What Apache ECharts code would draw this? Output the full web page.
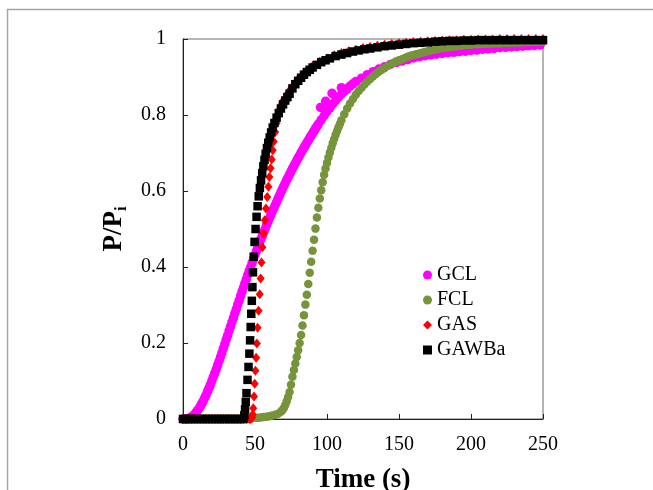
<!DOCTYPE html>
<html>
<head>
<meta charset="utf-8">
<script src="https://cdn.jsdelivr.net/npm/echarts@6/dist/echarts.min.js"></script>
<style>
html,body{margin:0;padding:0;background:#fff;}
#chart{width:653px;height:490px;}
</style>
</head>
<body>
<div id="chart"></div>
<script>
// ---- Data ----
var seriesNames = ['GCL', 'FCL', 'GAS', 'GAWBa'];
var xTicks = [0, 50, 100, 150, 200, 250];
var yTicks = [0, 0.2, 0.4, 0.6, 0.8, 1];

var gclTime = [0,2,4,5,6,7,8,9,10,11,12,13,14,15,16,17,18,19,20,21,22,23,24,25,26,27,28,29,30,31,32,33,34,35,36,37,38,39,40,41,42,43,44,45,46,47,48,49,50,51,52,53,54,55,56,57,58,59,60,61,62,63,64,65,66,67,68,69,70,71,72,73,74,75,76,77,78,79,80,81,82,83,84,85,86,87,88,89,90,91,92,93,94,95.5,96,98,99,100,102,103.5,104,106,108,110,110,112,114,116,118,120,124,128,132,136,140,144,148,152,156,160,164,168,172,176,180,184,188,192,196,200,204,208,212,216,220,224,228,232,236,240,244,248];
var gclP = [0,0,0.001,0.003,0.005,0.008,0.012,0.017,0.022,0.027,0.033,0.040,0.047,0.055,0.063,0.072,0.081,0.090,0.100,0.110,0.120,0.130,0.141,0.152,0.163,0.174,0.186,0.197,0.209,0.220,0.232,0.243,0.255,0.266,0.278,0.289,0.301,0.312,0.324,0.335,0.346,0.357,0.368,0.379,0.390,0.400,0.411,0.421,0.432,0.442,0.452,0.462,0.472,0.481,0.491,0.500,0.510,0.519,0.528,0.537,0.546,0.554,0.563,0.571,0.580,0.588,0.597,0.605,0.613,0.621,0.629,0.636,0.644,0.651,0.659,0.666,0.673,0.680,0.687,0.694,0.701,0.707,0.714,0.720,0.727,0.733,0.740,0.746,0.752,0.758,0.764,0.770,0.776,0.820,0.787,0.798,0.836,0.809,0.819,0.857,0.829,0.838,0.847,0.855,0.872,0.862,0.869,0.876,0.882,0.888,0.897,0.906,0.914,0.921,0.927,0.933,0.938,0.942,0.946,0.950,0.953,0.956,0.958,0.960,0.962,0.964,0.965,0.967,0.968,0.970,0.971,0.973,0.974,0.975,0.977,0.978,0.979,0.980,0.981,0.982,0.983,0.984];

var fclTime = [0,2,4,6,8,10,12,14,16,18,20,22,24,26,28,30,32,34,36,38,40,42,44,46,48,50,52,54,56,58,60,62,64,66,68,69,70,71,72,73,74,75,76,77,78,79,80,81,82,83,84,85,86,87,88,89,90,91,92,93,94,95,96,97,98,99,100,101,102,103,104,105,106,107,108,109,110,112,114,116,118,120,122,124,126,128,130,132,134,136,138,140,142,144,146,148,150,152,154,156,158,160,162,164,166,168,170,172,174,176,178,180,182,184,186,188,190,192,194,196,198,200,202,204,206,208,210,212,214,216,218,220,222,224,226,228,230,232,234,236,238,240,242,244,246,248,250];
var fclP = [0,0,0,0,0,0,0,0,0,0,0,0,0,0,0,0,0,0,0,0,0,0.001,0.001,0.002,0.002,0.003,0.003,0.004,0.005,0.006,0.007,0.009,0.011,0.014,0.019,0.023,0.029,0.037,0.047,0.058,0.071,0.090,0.111,0.129,0.146,0.163,0.181,0.200,0.221,0.246,0.273,0.301,0.327,0.355,0.385,0.414,0.443,0.472,0.501,0.530,0.556,0.580,0.602,0.623,0.643,0.659,0.674,0.688,0.701,0.714,0.726,0.737,0.748,0.758,0.768,0.777,0.786,0.802,0.817,0.830,0.842,0.853,0.863,0.872,0.880,0.888,0.895,0.902,0.908,0.914,0.919,0.924,0.929,0.933,0.937,0.941,0.944,0.947,0.950,0.953,0.956,0.958,0.960,0.962,0.964,0.966,0.968,0.970,0.972,0.973,0.975,0.976,0.977,0.978,0.979,0.980,0.981,0.982,0.983,0.984,0.985,0.985,0.986,0.986,0.987,0.987,0.988,0.988,0.988,0.989,0.989,0.989,0.990,0.990,0.990,0.991,0.991,0.991,0.991,0.992,0.992,0.992,0.992,0.993,0.993,0.993,0.993];

var gasTime = [0,2,4,6,8,10,12,14,16,18,20,22,24,26,28,30,32,34,36,38,40,42,44,46,47,48,48.4,48.8,49.3,49.8,50.3,50.8,51.3,51.8,52.5,53.3,53.9,54.5,55.1,55.9,56.8,57.6,58.5,59.3,60,60.8,61.6,62.3,63,64,65,66,67,68,69,70,72,74,76,78,80,83,86,90,95,100,105,110,115,120,125,130,135,140,145,150,155,160,165,170,175,180,185,190,195,200,205,210,215,220,225,230,235,240,245,250];
var gasP = [0,0,0,0,0,0,0,0,0,0,0,0,0,0,0,0,0,0,0,0,0,0,0,0,0,0.004,0.012,0.028,0.059,0.093,0.127,0.161,0.199,0.240,0.285,0.328,0.370,0.412,0.452,0.489,0.523,0.554,0.584,0.611,0.637,0.660,0.683,0.707,0.730,0.755,0.778,0.797,0.814,0.825,0.833,0.840,0.853,0.865,0.875,0.886,0.895,0.906,0.917,0.929,0.940,0.949,0.957,0.963,0.968,0.972,0.976,0.979,0.982,0.985,0.987,0.989,0.990,0.992,0.993,0.994,0.995,0.996,0.997,0.997,0.998,0.998,0.999,0.999,0.999,1.0,1.0,1.0,1.0,1.0,1.0,1.0];

var gawTime = [0,2,4,6,8,10,12,14,16,18,20,22,24,26,28,30,32,34,36,38,40,42,42.6,43.1,43.6,44.1,44.8,45.5,46.1,46.6,47.0,47.4,47.8,48.2,48.6,49.1,49.7,50.4,51.1,51.8,52.6,53.4,54.2,55.0,55.8,56.6,57.4,58.3,59.2,60.2,61.2,62.3,63.5,65,66.5,68,69.5,71,72.5,74,76,78,80,82,84,86,88,90,93,96,99,102,106,110,114,118,122,126,130,135,140,145,150,155,160,165,170,175,180,185,190,195,200,205,210,215,220,225,230,235,240,245,250];
var gawP = [0,0,0,0,0,0,0,0,0,0,0,0,0,0,0,0,0,0,0,0,0,0,0.010,0.025,0.045,0.068,0.103,0.137,0.172,0.207,0.242,0.277,0.311,0.347,0.386,0.427,0.466,0.500,0.532,0.560,0.586,0.608,0.628,0.647,0.665,0.682,0.698,0.713,0.727,0.741,0.754,0.767,0.779,0.793,0.805,0.817,0.828,0.838,0.847,0.856,0.870,0.881,0.890,0.898,0.906,0.913,0.919,0.925,0.932,0.939,0.944,0.949,0.955,0.959,0.963,0.967,0.970,0.973,0.975,0.978,0.981,0.983,0.985,0.987,0.989,0.990,0.991,0.993,0.994,0.995,0.995,0.996,0.996,0.997,0.997,0.997,0.997,0.997,0.997,0.997,0.997,0.997,0.997];

function zip(t, v) { return t.map(function (x, i) { return [x, v[i]]; }); }

var serif = 'Liberation Serif';
var chart = echarts.init(document.getElementById('chart'), null, {renderer: 'canvas'});

var option = {
  animation: false,
  backgroundColor: '#ffffff',
  graphic: [{
    type: 'rect', silent: true, z: -10,
    shape: {x: 7.5, y: 9.5, width: 700, height: 600},
    style: {fill: 'none', stroke: '#a6a6a6', lineWidth: 1.5}
  }],
  grid: {left: 183, right: 110, top: 39, bottom: 71, show: true, borderColor: '#6b6b6b', borderWidth: 1,
    backgroundColor: 'transparent', containLabel: false, outerBoundsMode: 'none'},
  legend: {
    orient: 'vertical', left: 418, top: 260, itemGap: 5, itemWidth: 9, itemHeight: 9,
    data: seriesNames,
    textStyle: {fontFamily: serif, fontSize: 20, color: '#000', lineHeight: 20}
  },
  xAxis: {
    type: 'value', min: 0, max: 250, interval: 50,
    name: 'Time (s)', nameLocation: 'middle', nameGap: 48,
    nameTextStyle: {fontFamily: serif, fontSize: 27, fontWeight: 'bold', color: '#000'},
    axisLine: {show: true, lineStyle: {color: '#222', width: 1}},
    axisTick: {show: true, inside: true, length: 5, lineStyle: {color: '#222'}},
    axisLabel: {fontFamily: serif, fontSize: 20, color: '#000', margin: 16},
    splitLine: {show: false}
  },
  yAxis: {
    type: 'value', min: 0, max: 1, interval: 0.2,
    name: '{a|P/P}{b|i}', nameLocation: 'middle', nameGap: 55,
    nameTextStyle: {fontFamily: serif, fontSize: 27, fontWeight: 'bold', color: '#000',
      rich: {
        a: {fontFamily: serif, fontSize: 27, fontWeight: 'bold', color: '#000', lineHeight: 27},
        b: {fontFamily: serif, fontSize: 17, fontWeight: 'bold', color: '#000', lineHeight: 17, padding: [16, 0, 0, 0]}
      }},
    axisLine: {show: true, lineStyle: {color: '#222', width: 1}},
    axisTick: {show: true, inside: true, length: 5, lineStyle: {color: '#222'}},
    axisLabel: {fontFamily: serif, fontSize: 20, color: '#000', margin: 17},
    splitLine: {show: false}
  },
  series: [
    {name: 'GCL', type: 'scatter', symbol: 'circle', symbolSize: 9.5, clip: false,
      itemStyle: {color: '#ff00ff', opacity: 1}, data: zip(gclTime, gclP)},
    {name: 'FCL', type: 'scatter', symbol: 'circle', symbolSize: 8.5, clip: false,
      itemStyle: {color: '#77933c', opacity: 1}, data: zip(fclTime, fclP)},
    {name: 'GAS', type: 'scatter', symbol: 'diamond', symbolSize: [8, 10], clip: false,
      itemStyle: {color: '#ff0000', opacity: 1}, data: zip(gasTime, gasP)},
    {name: 'GAWBa', type: 'scatter', symbol: 'rect', symbolSize: 8.5, clip: false,
      itemStyle: {color: '#000000', opacity: 1}, data: zip(gawTime, gawP)}
  ]
};
chart.setOption(option);
</script>
</body>
</html>
